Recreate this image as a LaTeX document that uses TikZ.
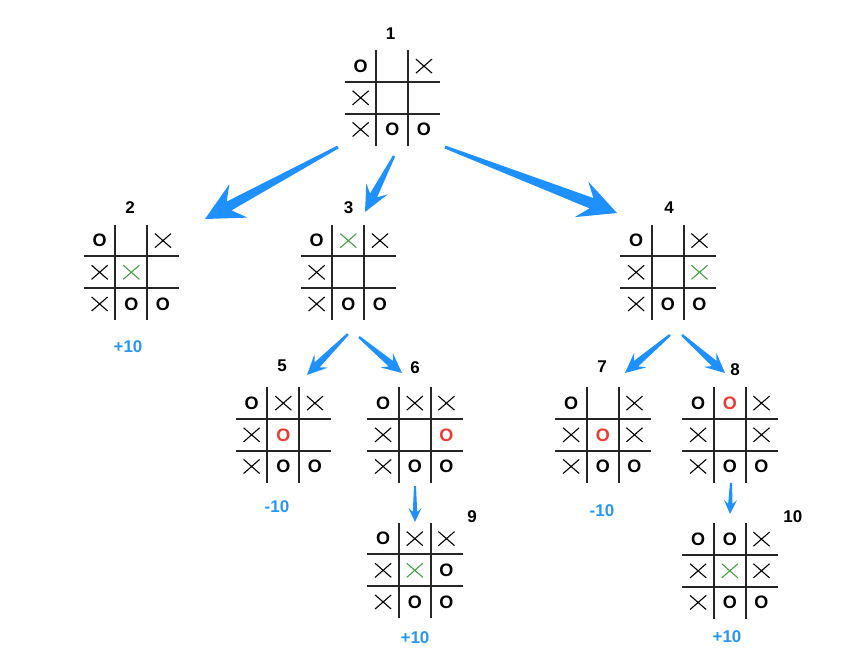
\documentclass[tikz,border=0pt]{standalone}
\usepackage{fontspec}
\setmainfont{Liberation Sans}
\usepackage{tikz}
\usetikzlibrary{calc,positioning,shapes.misc}

\definecolor{flowblue}{RGB}{30,144,255}
\definecolor{scoreblue}{RGB}{40,150,245}
\definecolor{markgreen}{RGB}{70,160,70}
\definecolor{markred}{RGB}{238,58,48}

\tikzset{
  board/.style={minimum size=95pt, inner sep=0pt},
  gridline/.style={line width=2pt, black!85},
  cell o/.style={node contents=O, font=\bfseries\fontsize{18}{18}\selectfont, inner sep=0pt},
  cell ro/.style={cell o, text=markred},
  cell x/.style={cross out, draw, line width=1.1pt, minimum width=15pt, minimum height=13pt, inner sep=0pt, node contents={}},
  cell gx/.style={cell x, draw=markgreen},
  cell e/.style={inner sep=0pt, node contents={}},
  lbl/.style={font=\bfseries\fontsize{17}{17}\selectfont, inner sep=0pt},
  score/.style={lbl, text=scoreblue},
  flow/.style={fill=flowblue},
  taper/.style n args={4}{to path={
    ($(\tikztostart)!#1!90:(\tikztotarget)$)
    -- ($(\tikztotarget)!#4*0.72!(\tikztostart)!#2!-90:(\tikztostart)$)
    -- ($(\tikztotarget)!#4!(\tikztostart)!#3!-90:(\tikztostart)$)
    -- (\tikztotarget)
    -- ($(\tikztotarget)!#4!(\tikztostart)!#3!90:(\tikztostart)$)
    -- ($(\tikztotarget)!#4*0.72!(\tikztostart)!#2!90:(\tikztostart)$)
    -- ($(\tikztostart)!#1!-90:(\tikztotarget)$)
    -- cycle}},
}

% grid lines and the nine cells of one board
\newcommand\tttboard[2]{%
  \foreach \k in {1,2} {
    \draw[gridline] ($(#1.north west)+(\k*31.67,0)$) -- ($(#1.south west)+(\k*31.67,0)$);
    \draw[gridline] ($(#1.north west)+(0,\k*31.67)$) -- ($(#1.north east)+(0,\k*31.67)$);
  }
  \foreach \m [count=\i from 0] in {#2} {
    \pgfmathtruncatemacro\brow{div(\i,3)}
    \pgfmathtruncatemacro\bcol{mod(\i,3)}
    \node (#1-\i) at ($(#1.north west)+(\bcol*31.67+15.83,\brow*31.67+15.83)$) [cell \m];
  }
}

\begin{document}
\begin{tikzpicture}[x=1pt, y=-1pt, node distance=11pt]
\useasboundingbox (0,0) rectangle (868,656);

% boards
\node (b1) [board] at (392.5,98) {};
\node (b2) [board] at (131.5,272.5) {};
\node (b3) [board] at (348.5,272.5) {};
\node (b4) [board] at (668,272.5) {};
\node (b5) [board] at (283.5,435) {};
\node (b6) [board] at (415,435) {};
\node (b7) [board] at (603,435) {};
\node (b8) [board] at (730,435) {};
\node (b9) [board] at (415,570.5) {};
\node (b10) [board] at (730,571) {};

\tttboard{b1}{o,e,x,x,e,e,x,o,o}
\tttboard{b2}{o,e,x,x,gx,e,x,o,o}
\tttboard{b3}{o,gx,x,x,e,e,x,o,o}
\tttboard{b4}{o,e,x,x,e,gx,x,o,o}
\tttboard{b5}{o,x,x,x,ro,e,x,o,o}
\tttboard{b6}{o,x,x,x,e,ro,x,o,o}
\tttboard{b7}{o,e,x,x,ro,x,x,o,o}
\tttboard{b8}{o,ro,x,x,e,x,x,o,o}
\tttboard{b9}{o,x,x,x,gx,o,x,o,o}
\tttboard{b10}{o,o,x,x,gx,x,x,o,o}

% move numbers
\node (l1) [lbl, above=of b1, xshift=-2pt] {1};
\node (l2) [lbl, above=of b2, xshift=-1.5pt] {2};
\node (l3) [lbl, above=of b3] {3};
\node (l4) [lbl, above=of b4, xshift=1pt] {4};
\node (l5) [lbl, above=15pt of b5, xshift=-1.5pt] {5};
\node (l6) [lbl, above=13.5pt of b6] {6};
\node (l7) [lbl, above=14.5pt of b7, xshift=-1pt] {7};
\node (l8) [lbl, above=of b8, xshift=5pt] {8};
\node (l9) [lbl, anchor=south west] at ($(b9.north east)+(4.5,0)$) {9};
\node (l10) [lbl, anchor=south west] at ($(b10.north east)+(5.5,0)$) {10};

% scores
\node (s2) [score, below=20pt of b2, xshift=-3.5pt] {+10};
\node (s5) [score, below=17.5pt of b5, xshift=-6.5pt] {-10};
\node (s7) [score, below=21.5pt of b7, xshift=-1pt] {-10};
\node (s9) [score, below=13.5pt of b9] {+10};
\node (s10) [score, below=11.5pt of b10, xshift=-3pt] {+10};

% arrows
\coordinate (a12) at (338,147);  \coordinate (z12) at (205,219);
\coordinate (a13) at (394,156);  \coordinate (z13) at (365,212);
\coordinate (a14) at (445,147);  \coordinate (z14) at (617,213);
\coordinate (a35) at (348,334);  \coordinate (z35) at (307,375);
\coordinate (a36) at (359,337);  \coordinate (z36) at (402,373);
\coordinate (a47) at (670,335);  \coordinate (z47) at (625,373);
\coordinate (a48) at (682,335);  \coordinate (z48) at (725,373);
\coordinate (a69) at (415,486);  \coordinate (z69) at (415,522);
\coordinate (a810) at (731,483); \coordinate (z810) at (730,514);

\fill[flow] (a12) to[taper={1.5pt}{5pt}{19pt}{38pt}] (z12);
\fill[flow] (a13) to[taper={1.2pt}{4pt}{12pt}{26pt}] (z13);
\fill[flow] (a14) to[taper={1.5pt}{5.5pt}{19pt}{38pt}] (z14);
\fill[flow] (a35) to[taper={1.2pt}{3.5pt}{9.5pt}{20pt}] (z35);
\fill[flow] (a36) to[taper={1.2pt}{3.5pt}{9.5pt}{20pt}] (z36);
\fill[flow] (a47) to[taper={1.2pt}{3.5pt}{9.5pt}{20pt}] (z47);
\fill[flow] (a48) to[taper={1.2pt}{3.5pt}{9.5pt}{20pt}] (z48);
\fill[flow] (a69) to[taper={1pt}{2.2pt}{6.5pt}{14pt}] (z69);
\fill[flow] (a810) to[taper={1pt}{2.2pt}{6.5pt}{14pt}] (z810);
\end{tikzpicture}
\end{document}
